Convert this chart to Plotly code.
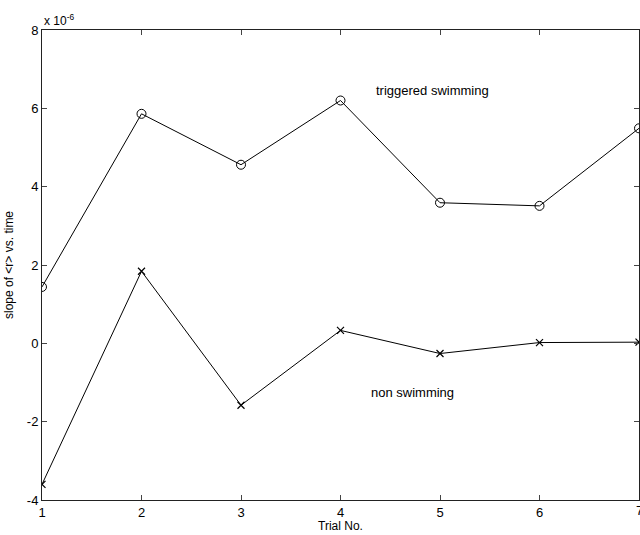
import plotly.graph_objects as go

trials = [1, 2, 3, 4, 5, 6, 7]
triggered = [1.44e-6, 5.86e-6, 4.56e-6, 6.20e-6, 3.59e-6, 3.51e-6, 5.49e-6]
non_swimming = [-3.60e-6, 1.84e-6, -1.58e-6, 0.33e-6, -0.26e-6, 0.02e-6, 0.03e-6]
y_ticks = [-4e-6, -2e-6, 0, 2e-6, 4e-6, 6e-6, 8e-6]
y_tick_labels = ["-4", "-2", "0", "2", "4", "6", "8"]
x_tick_labels = [str(t) for t in trials]

font = dict(family="Liberation Sans, Arial, sans-serif", size=13, color="black")
small_font = dict(family="Liberation Sans, Arial, sans-serif", size=12, color="black")

fig = go.Figure()
fig.add_trace(go.Scatter(x=trials, y=triggered, mode="lines+markers",
                         line=dict(color="black", width=1),
                         marker=dict(symbol="circle-open", size=9, color="black", line=dict(width=1)),
                         showlegend=False))
fig.add_trace(go.Scatter(x=trials, y=non_swimming, mode="lines+markers",
                         line=dict(color="black", width=1),
                         marker=dict(symbol="x-thin-open", size=7, color="black", line=dict(width=1.2)),
                         showlegend=False))

fig.update_layout(
    width=640, height=535,
    margin=dict(l=42, r=1, t=30, b=35),
    paper_bgcolor="white", plot_bgcolor="white",
    font=font,
    xaxis=dict(range=[1, 7], tickvals=trials[:-1], ticktext=x_tick_labels[:-1],
               ticks="inside", ticklen=5,
               showline=True, linecolor="#222", linewidth=1, mirror="ticks",
               showgrid=False, zeroline=False, tickfont=font),
    yaxis=dict(range=[-4e-6, 8e-6], tickvals=y_ticks, ticktext=y_tick_labels,
               ticks="inside", ticklen=5,
               showline=True, linecolor="#222", linewidth=1, mirror="ticks",
               showgrid=False, zeroline=False, tickfont=font),
    annotations=[
        dict(text=x_tick_labels[-1], x=trials[-1], y=0, xref="x", yref="paper",
             xanchor="center", yanchor="top", showarrow=False, font=font, yshift=-1),
        dict(text="triggered swimming", x=4.34, y=6.46e-6, xref="x", yref="y",
             xanchor="left", yanchor="middle", showarrow=False, font=font),
        dict(text="non swimming", x=4.29, y=-1.25e-6, xref="x", yref="y",
             xanchor="left", yanchor="middle", showarrow=False, font=font),
        dict(text="x 10<sup>-6</sup>", x=0, y=1, xref="paper", yref="paper",
             xanchor="left", yanchor="bottom", showarrow=False, font=small_font, yshift=0),
        dict(text="Trial No.", x=0.5, y=0, xref="paper", yref="paper",
             xanchor="center", yanchor="top", showarrow=False, font=small_font, yshift=-17),
        dict(text="slope of &lt;r&gt; vs. time", x=0, y=0.5, xref="paper", yref="paper",
             xanchor="center", yanchor="middle", textangle=-90, showarrow=False,
             font=small_font, xshift=-33),
    ],
)

fig.write_html("out.html", config={"displayModeBar": False},
               post_script="document.body.style.margin='0';document.body.style.overflow='hidden';")
